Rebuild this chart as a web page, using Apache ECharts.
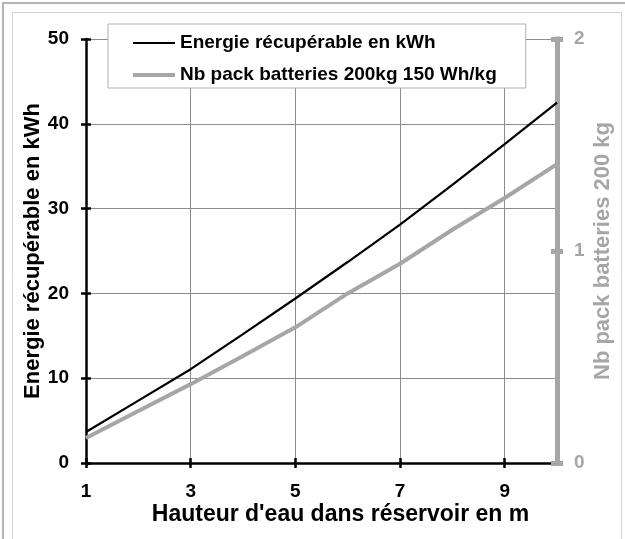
<!DOCTYPE html>
<html>
<head>
<meta charset="utf-8">
<script src="https://cdn.jsdelivr.net/npm/echarts@6/dist/echarts.min.js"></script>
<style>
  html, body { margin: 0; padding: 0; background: #fff; }
  #chart { width: 625px; height: 539px; }
</style>
</head>
<body>
<div id="chart"></div>
<script>
// hauteur d'eau (m)
const hauteurs = ['1', '2', '3', '4', '5', '6', '7', '8', '9', '10']
// énergie récupérable (kWh)
const energie = [3.65, 7.35, 11.06, 15.2, 19.4, 23.7, 28.1, 32.8, 37.6, 42.5]
// nombre de packs batteries 200 kg (30 kWh)
const nbPacks = [0.118, 0.245, 0.372, 0.505, 0.64, 0.8, 0.94, 1.1, 1.25, 1.41]

const font = "'Liberation Sans', Arial, sans-serif"
const gris = '#a6a6a6'

let chart = echarts.init(document.getElementById('chart'))

let option = {
  backgroundColor: '#fff',
  animation: false,
  textStyle: { fontFamily: font },
  graphic: [
    { type: 'rect', shape: { x: 3, y: 3, width: 640, height: 600 },
      style: { fill: 'none', stroke: '#b4b4b4', lineWidth: 2 }, silent: true },
    { type: 'rect', shape: { x: 12.5, y: 12.5, width: 609, height: 600 },
      style: { fill: 'none', stroke: '#d4d4d4', lineWidth: 1 }, silent: true }
  ],
  grid: { left: 86, right: 68, top: 39, bottom: 76 },
  legend: {
    left: 108, top: 24,
    orient: 'vertical',
    data: [
      { name: 'Energie récupérable en kWh', icon: 'path://M0,0H42V2H0Z', itemStyle: { color: '#000' } },
      { name: 'Nb pack batteries 200kg 150 Wh/kg', icon: 'path://M0,0H42V4H0Z', itemStyle: { color: gris } }
    ],
    itemWidth: 42, itemHeight: 14, itemGap: 12,
    padding: [9, 29, 3, 25],
    backgroundColor: '#fff',
    borderColor: '#b0b0b0', borderWidth: 1,
    textStyle: { fontFamily: font, fontWeight: 'bold', fontSize: 19, color: '#000', lineHeight: 20 }
  },
  xAxis: [
    {
      type: 'category',
      data: hauteurs,
      boundaryGap: false,
      name: "Hauteur d'eau dans réservoir en m",
      nameLocation: 'middle',
      nameGap: 40,
      nameMoveOverlap: false,
      nameTextStyle: { fontFamily: font, fontWeight: 'bold', fontSize: 23, color: '#000', padding: [0, 0, 0, 38] },
      axisLine: { lineStyle: { color: '#000', width: 2.5 } },
      axisTick: { show: true, interval: 1, length: 5, lineStyle: { color: '#000', width: 2.5 } },
      axisLabel: { interval: 1, margin: 19, fontFamily: font, fontWeight: 'bold', fontSize: 19, color: '#000' },
      splitLine: { show: true, interval: 1, lineStyle: { color: '#8c8c8c', width: 1 } }
    },
    {
      // ticks vers l'intérieur
      type: 'category',
      data: hauteurs,
      boundaryGap: false,
      position: 'bottom',
      axisLine: { show: false },
      axisTick: { show: true, inside: true, interval: 1, length: 5, lineStyle: { color: '#000', width: 2.5 } },
      axisLabel: { show: false },
      splitLine: { show: false }
    }
  ],
  yAxis: [
    {
      type: 'value',
      min: 0, max: 50, interval: 10,
      position: 'left',
      name: 'Energie récupérable en kWh',
      nameLocation: 'middle',
      nameGap: 42,
      nameMoveOverlap: false,
      nameTextStyle: { fontFamily: font, fontWeight: 'bold', fontSize: 22, color: '#000' },
      axisLine: { show: true, lineStyle: { color: '#000', width: 2.5 } },
      axisTick: { show: true, length: 5, lineStyle: { color: '#000', width: 2.5 } },
      axisLabel: { margin: 17, fontFamily: font, fontWeight: 'bold', fontSize: 19, color: '#000' },
      splitLine: { show: true, lineStyle: { color: '#8c8c8c', width: 1 } }
    },
    {
      type: 'value',
      min: 0, max: 50, interval: 10,
      position: 'left',
      axisLine: { show: false },
      axisTick: { show: true, inside: true, length: 5, lineStyle: { color: '#000', width: 2.5 } },
      axisLabel: { show: false },
      splitLine: { show: false }
    },
    {
      type: 'value',
      min: 0, max: 2, interval: 1,
      position: 'right',
      name: 'Nb pack batteries 200 kg',
      nameLocation: 'middle',
      nameGap: 35,
      nameRotate: 90,
      nameMoveOverlap: false,
      nameTextStyle: { fontFamily: font, fontWeight: 'bold', fontSize: 22, color: gris },
      axisLine: { show: true, lineStyle: { color: gris, width: 5, cap: 'square' } },
      axisTick: { show: true, length: 6, lineStyle: { color: gris, width: 5 } },
      axisLabel: { margin: 17, fontFamily: font, fontWeight: 'bold', fontSize: 19, color: gris },
      splitLine: { show: false }
    },
    {
      type: 'value',
      min: 0, max: 2, interval: 1,
      position: 'right',
      axisLine: { show: false },
      axisTick: { show: true, inside: true, length: 6, lineStyle: { color: gris, width: 5 } },
      axisLabel: { show: false },
      splitLine: { show: false }
    }
  ],
  series: [
    {
      name: 'Nb pack batteries 200kg 150 Wh/kg',
      type: 'line',
      yAxisIndex: 2,
      data: nbPacks,
      symbol: 'none',
      lineStyle: { color: gris, width: 4 },
      itemStyle: { color: gris },
      z: 2
    },
    {
      name: 'Energie récupérable en kWh',
      type: 'line',
      yAxisIndex: 0,
      data: energie,
      symbol: 'none',
      lineStyle: { color: '#000', width: 2.2 },
      itemStyle: { color: '#000' },
      z: 3
    }
  ]
}

chart.setOption(option)
</script>
</body>
</html>
